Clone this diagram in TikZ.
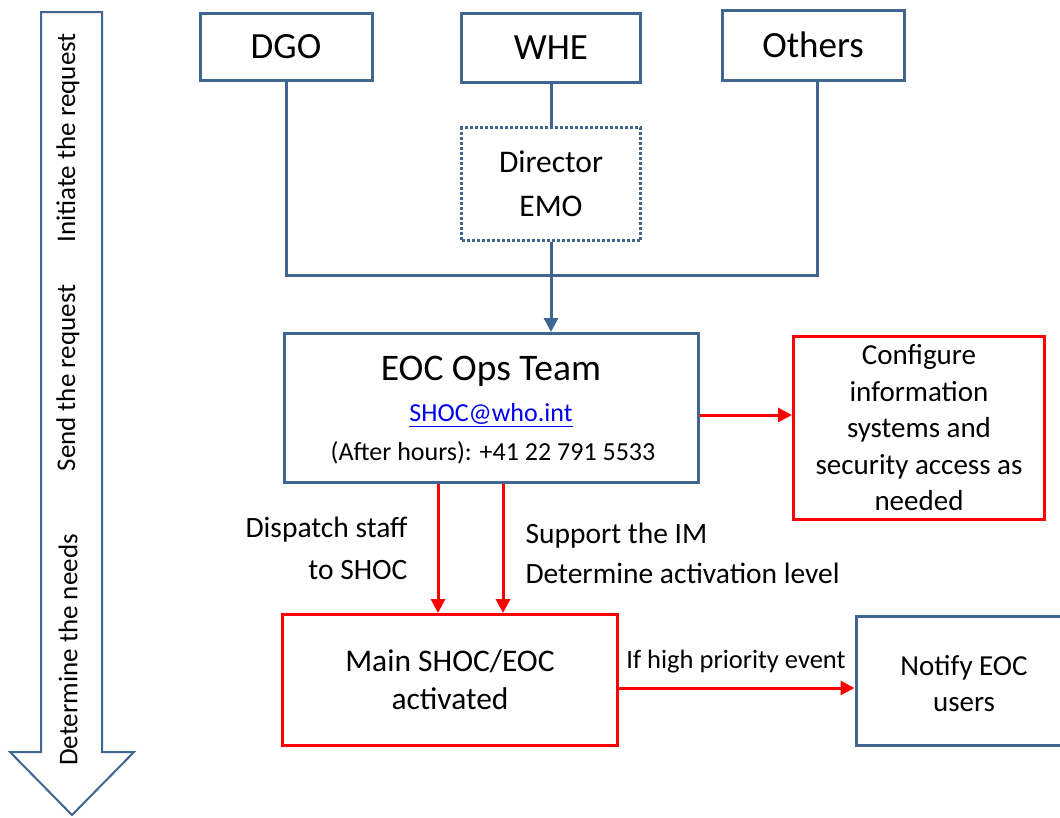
\documentclass[tikz,border=0pt]{standalone}
\usepackage{fontspec}
\setmainfont{Carlito}
\usetikzlibrary{arrows.meta}
\definecolor{bblue}{RGB}{65,101,145}
\definecolor{rred}{RGB}{255,0,0}
\definecolor{linkblue}{RGB}{0,0,238}
\begin{document}
\begin{tikzpicture}[x=1pt,y=-1pt,
  bbox/.style={draw=bblue,line width=3pt,inner sep=0pt,align=center,fill=white},
  rbox/.style={draw=rred,line width=3pt,inner sep=0pt,align=center,fill=white},
  bline/.style={draw=bblue,line width=3pt},
  rarrow/.style={draw=rred,line width=3pt,-{Triangle[length=14pt,width=14pt]}},
  barrow/.style={draw=bblue,line width=3pt,-{Triangle[length=14pt,width=14pt]}},
  big/.style={font=\fontsize{37}{40}\selectfont},
  side/.style={rotate=90,font=\fontsize{27}{30}\selectfont}]
\useasboundingbox (0,0) rectangle (1060,817);
% left arrow
\draw[draw=bblue,line width=2pt,fill=white] (41,12) -- (102,12) -- (102,752) -- (134,752) -- (72,815) -- (10,752) -- (41,752) -- cycle;
\node[side] (l1) at (68,138) {Initiate the request};
\node[side] (l2) at (68,378) {Send the request};
\node[side] (l3) at (68,650) {Determine the needs};
% top boxes
\node[bbox,big,minimum width=172,minimum height=67] (dgo) at (286,47) {DGO};
\node[bbox,big,minimum width=179,minimum height=69] (whe) at (551,48) {WHE};
\node[bbox,big,minimum width=182,minimum height=70] (oth) at (813,45) {Others};
\node[draw=bblue,line width=3pt,dotted,inner sep=0pt,align=center,minimum width=179,minimum height=113,font=\fontsize{31.5}{44}\selectfont] (dir) at (551,184) {Director\\EMO};
% EOC
\node[bbox,minimum width=414,minimum height=149] (eoc) at (491,408) {};
\node[font=\fontsize{37.5}{40}\selectfont] (t1) at (491,371) {EOC Ops Team};
\node[font=\fontsize{26}{30}\selectfont,text=linkblue] (t2) at (491,415) {\underline{SHOC@who.int}};
\node[font=\fontsize{26}{30}\selectfont] (t3) at (493,453) {(After hours): +41 22 791 5533};
% configure
\node[rbox,minimum width=251,minimum height=183,font=\fontsize{29}{36.5}\selectfont] (cfg) at (919,428) {Configure\\information\\systems and\\security access as\\needed};
% main
\node[rbox,minimum width=335,minimum height=131,font=\fontsize{31.5}{38}\selectfont] (main) at (450,680) {Main SHOC/EOC\\activated};
% notify
\node[bbox,minimum width=214,minimum height=129] (ntf) at (963,681) {};
\node[font=\fontsize{29}{36}\selectfont,align=center] (ntft) at (964,684) {Notify EOC\\users};
% connectors
\draw[bline] (whe.south) -- (dir.north);
\draw[bline] (dgo.south) -- (286,275) -- (817,275) -- (817,80);
\draw[barrow] (dir.south) -- (dir.south |- eoc.north);
\draw[rarrow] (eoc.east |- 0,415) -- (cfg.west |- 0,415);
\coordinate (a1) at ([xshift=-53]eoc.south);
\coordinate (a2) at ([xshift=12]eoc.south);
\draw[rarrow] (a1) -- (a1 |- main.north);
\draw[rarrow] (a2) -- (a2 |- main.north);
\draw[rarrow] (main.east |- 0,688) -- (ntf.west |- 0,688);
% labels
\node[align=right,anchor=east,font=\fontsize{29.5}{42}\selectfont] (ld) at (411,548) {Dispatch staff\\to SHOC};
\node[align=left,anchor=west,font=\fontsize{29.5}{40}\selectfont] (ls) at (522,553) {Support the IM\\Determine activation level};
\node[font=\fontsize{26.5}{30}\selectfont] (lh) at (736,662) {If high priority event};
\end{tikzpicture}
\end{document}
